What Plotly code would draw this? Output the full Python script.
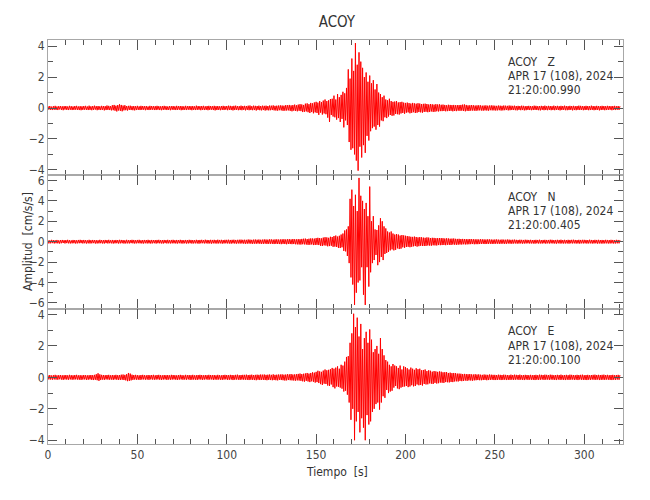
import plotly.graph_objects as go
from plotly.subplots import make_subplots

# ---------------- data (0.5 s steps, cm/s/s) ----------------
sample_interval_s = 0.5

z_values = [
    .12,-.10,.13,-.12,.09,-.13,.12,-.11,.14,-.12,.10,-.13,.12,-.09,.13,-.12,.11,-.14,.12,-.10,
    .13,-.12,.10,-.13,.14,-.11,.12,-.13,.10,-.12,.13,-.11,.14,-.12,.10,-.13,.12,-.14,.11,-.12,
    .13,-.11,.14,-.12,.10,-.13,.15,-.12,.11,-.14,.13,-.12,.15,-.10,.12,-.14,.13,-.12,.11,-.13,
    .14,-.12,.13,-.15,.12,-.13,.16,-.12,.14,-.13,.12,-.15,.18,-.14,.20,-.17,.15,-.22,.19,-.16,
    .24,-.18,.20,-.21,.16,-.15,.18,-.14,.13,-.16,.14,-.12,.15,-.13,.12,-.14,.13,-.15,.12,-.13,
    .14,-.12,.11,-.13,.14,-.12,.13,-.11,.12,-.14,.13,-.12,.10,-.13,.14,-.12,.13,-.11,.12,-.13,
    .12,-.13,.14,-.11,.12,-.13,.11,-.14,.13,-.12,.14,-.11,.12,-.13,.10,-.12,.13,-.14,.12,-.11,
    .13,-.12,.11,-.13,.14,-.12,.12,-.11,.13,-.14,.12,-.13,.11,-.12,.14,-.13,.12,-.11,.13,-.12,
    .12,-.14,.13,-.12,.11,-.13,.15,-.12,.13,-.11,.12,-.14,.13,-.12,.14,-.13,.11,-.12,.13,-.14,
    .14,-.12,.13,-.11,.12,-.13,.14,-.15,.12,-.13,.13,-.12,.11,-.14,.13,-.12,.14,-.13,.12,-.11,
    .13,-.14,.15,-.12,.14,-.13,.12,-.15,.14,-.13,.15,-.12,.13,-.14,.12,-.13,.15,-.14,.13,-.12,
    .14,-.15,.13,-.12,.15,-.14,.16,-.13,.12,-.14,.15,-.13,.14,-.16,.13,-.12,.15,-.14,.13,-.15,
    .15,-.13,.14,-.16,.15,-.14,.13,-.15,.16,-.14,.15,-.13,.17,-.15,.14,-.16,.15,-.17,.16,-.14,
    .17,-.15,.16,-.18,.15,-.17,.19,-.16,.18,-.15,.20,-.18,.17,-.21,.19,-.17,.22,-.19,.18,-.21,
    .22,-.18,.25,-.20,.23,-.26,.20,-.24,.28,-.22,.30,-.27,.25,-.32,.33,-.26,.30,-.34,.36,-.28,
    .40,-.32,.35,-.44,.45,-.30,.38,-.42,.48,-.35,.55,-.40,.45,-.62,.50,-.90,.58,-.45,.60,-.55,
    .80,-.60,.55,-.75,.90,-.65,.70,-.90,.85,-.70,1.05,-1.25,.95,-.80,1.30,-1.10,2.50,-2.20,1.90,-2.70,
    3.20,-2.60,2.40,-3.00,4.20,-3.40,2.80,-4.05,3.60,-2.50,3.00,-3.20,2.60,-2.40,2.00,-2.90,2.30,-1.80,1.70,-2.10,
    2.10,-1.50,1.60,-1.30,1.80,-1.20,1.20,-1.40,1.55,-1.10,1.00,-1.20,.90,-.80,.70,-.85,.80,-.60,.55,-.65,
    .50,-.55,.60,-.45,.45,-.50,.40,-.48,.42,-.38,.45,-.40,.36,-.42,.38,-.35,.40,-.32,.35,-.37,
    .33,-.30,.35,-.28,.32,-.34,.29,-.31,.33,-.27,.30,-.32,.28,-.30,.31,-.26,.29,-.28,.26,-.30,
    .27,-.25,.28,-.24,.26,-.27,.23,-.25,.26,-.22,.24,-.25,.22,-.24,.25,-.21,.23,-.22,.24,-.20,
    .21,-.20,.22,-.19,.20,-.21,.18,-.20,.21,-.19,.20,-.18,.19,-.21,.20,-.19,.18,-.20,.19,-.17,
    .19,-.18,.20,-.17,.22,-.19,.23,-.21,.20,-.18,.17,-.19,.18,-.17,.19,-.16,.18,-.17,.16,-.18,
    .17,-.16,.18,-.15,.17,-.16,.15,-.17,.16,-.15,.17,-.16,.15,-.17,.16,-.14,.17,-.15,.16,-.15,
    .15,-.16,.14,-.15,.16,-.14,.15,-.16,.14,-.15,.16,-.14,.15,-.13,.14,-.15,.16,-.14,.15,-.13,
    .14,-.13,.15,-.14,.13,-.15,.14,-.12,.13,-.14,.15,-.13,.14,-.15,.12,-.14,.13,-.12,.14,-.13,
    .13,-.14,.12,-.13,.15,-.12,.14,-.13,.12,-.14,.13,-.15,.14,-.12,.13,-.14,.15,-.13,.12,-.14,
    .14,-.12,.13,-.14,.12,-.13,.15,-.14,.13,-.12,.14,-.13,.12,-.15,.14,-.13,.13,-.12,.15,-.14,
    .13,-.14,.12,-.13,.14,-.12,.13,-.15,.14,-.13,.12,-.14,.13,-.12,.15,-.13,.14,-.12,.13,-.14,
    .12,-.13,.14,-.12,.13,-.14,.12,-.13,.15,-.12,.13,-.14,.12,-.13,.14,-.12,.13,-.15,.12,-.13,
    .14,-.12,.13,-.14,.12,-.13,.14,-.12,.13,-.11,.12,-.14,.13,-.12,.14,-.13,.12,-.11,.13,-.12,
    .12,
]

n_values = [
    .15,-.17,.13,-.16,.18,-.14,.16,-.17,.14,-.15,.17,-.16,.13,-.18,.16,-.15,.17,-.13,.15,-.17,
    .16,-.14,.18,-.16,.15,-.17,.13,-.16,.17,-.15,.16,-.18,.14,-.16,.17,-.15,.18,-.14,.16,-.17,
    .17,-.15,.16,-.18,.14,-.16,.18,-.17,.15,-.16,.17,-.14,.16,-.18,.15,-.17,.14,-.16,.18,-.15,
    .16,-.17,.15,-.18,.17,-.14,.16,-.17,.18,-.15,.14,-.16,.17,-.18,.15,-.16,.17,-.15,.16,-.18,
    .18,-.16,.17,-.15,.16,-.18,.14,-.17,.18,-.16,.15,-.17,.16,-.14,.18,-.16,.17,-.18,.15,-.16,
    .17,-.15,.18,-.16,.14,-.17,.16,-.18,.17,-.15,.16,-.17,.18,-.16,.15,-.18,.17,-.16,.16,-.15,
    .16,-.18,.17,-.15,.18,-.16,.15,-.17,.16,-.18,.17,-.14,.16,-.17,.18,-.16,.15,-.17,.17,-.16,
    .18,-.16,.15,-.17,.17,-.18,.16,-.15,.18,-.17,.16,-.18,.15,-.16,.17,-.18,.16,-.17,.18,-.15,
    .17,-.18,.16,-.17,.15,-.16,.18,-.17,.16,-.19,.17,-.16,.18,-.15,.16,-.17,.19,-.16,.17,-.18,
    .16,-.17,.18,-.19,.17,-.16,.18,-.17,.16,-.18,.19,-.17,.17,-.16,.18,-.19,.16,-.17,.18,-.16,
    .18,-.17,.19,-.18,.17,-.19,.18,-.16,.19,-.18,.17,-.19,.18,-.17,.19,-.18,.20,-.17,.18,-.19,
    .19,-.20,.18,-.19,.21,-.18,.20,-.19,.18,-.21,.20,-.19,.21,-.20,.19,-.18,.21,-.20,.19,-.21,
    .20,-.21,.22,-.19,.21,-.22,.20,-.21,.23,-.20,.22,-.21,.20,-.23,.22,-.21,.23,-.22,.21,-.23,
    .22,-.24,.23,-.21,.24,-.23,.22,-.25,.24,-.22,.25,-.23,.22,-.24,.26,-.23,.24,-.25,.23,-.26,
    .25,-.27,.24,-.28,.27,-.25,.29,-.26,.30,-.28,.26,-.31,.29,-.30,.32,-.27,.31,-.33,.30,-.32,
    .35,-.30,.38,-.33,.36,-.40,.32,-.42,.40,-.36,.44,-.38,.42,-.45,.38,-.43,.48,-.40,.46,-.50,
    .55,-.48,.60,-.52,.50,-.60,.58,-.62,.70,-.55,.80,-.90,1.10,-.95,1.20,-1.40,1.50,-2.10,4.20,-3.50,
    5.10,-4.20,3.50,-6.20,4.60,-5.00,3.00,-4.00,6.25,-3.80,4.50,-2.50,4.00,-5.20,3.20,-6.20,3.80,-2.50,2.50,-4.40,
    5.40,-3.00,2.00,-2.10,2.50,-1.80,1.20,-1.30,1.15,-2.30,1.60,-2.00,2.30,-1.50,2.00,-1.80,1.50,-1.20,1.30,-1.10,
    1.00,-1.00,.90,-.85,1.00,-.75,.80,-.85,.70,-.80,.75,-.65,.70,-.72,.60,-.68,.65,-.55,.62,-.60,
    .58,-.52,.55,-.50,.52,-.54,.48,-.50,.47,-.45,.50,-.43,.46,-.48,.42,-.44,.45,-.40,.43,-.42,
    .40,-.42,.38,-.41,.42,-.37,.40,-.38,.36,-.39,.38,-.35,.37,-.36,.34,-.37,.35,-.33,.36,-.34,
    .35,-.33,.34,-.32,.31,-.34,.33,-.30,.32,-.31,.29,-.32,.30,-.28,.31,-.29,.28,-.30,.27,-.29,
    .28,-.27,.26,-.28,.27,-.25,.26,-.27,.25,-.26,.24,-.25,.26,-.24,.25,-.23,.24,-.25,.23,-.24,
    .23,-.24,.22,-.23,.24,-.22,.23,-.21,.22,-.23,.21,-.22,.23,-.21,.22,-.20,.21,-.22,.20,-.21,
    .21,-.20,.22,-.19,.20,-.21,.19,-.20,.21,-.19,.20,-.21,.19,-.20,.21,-.18,.20,-.19,.18,-.20,
    .19,-.18,.20,-.17,.18,-.19,.17,-.18,.19,-.17,.18,-.19,.17,-.18,.19,-.17,.18,-.16,.17,-.18,
    .18,-.17,.16,-.18,.17,-.19,.18,-.16,.17,-.18,.19,-.17,.16,-.18,.17,-.16,.18,-.19,.17,-.16,
    .17,-.18,.19,-.16,.18,-.17,.16,-.18,.17,-.19,.18,-.16,.17,-.18,.19,-.17,.16,-.18,.18,-.17,
    .16,-.17,.18,-.19,.17,-.16,.18,-.17,.19,-.16,.17,-.18,.16,-.17,.18,-.19,.17,-.16,.18,-.17,
    .18,-.16,.17,-.18,.16,-.17,.19,-.16,.17,-.18,.16,-.17,.18,-.16,.17,-.19,.18,-.17,.16,-.18,
    .17,-.18,.16,-.17,.18,-.16,.17,-.18,.16,-.17,.18,-.16,.17,-.18,.16,-.17,.18,-.16,.17,-.16,
    .17,
]

e_values = [
    .14,-.13,.15,-.14,.12,-.15,.14,-.13,.16,-.14,.13,-.15,.14,-.12,.15,-.14,.13,-.16,.14,-.13,
    .15,-.14,.13,-.15,.16,-.13,.14,-.15,.13,-.14,.15,-.13,.16,-.14,.13,-.15,.14,-.16,.13,-.14,
    .15,-.13,.14,-.16,.13,-.15,.14,-.13,.15,-.16,.14,-.17,.16,-.15,.20,-.18,.26,-.22,.19,-.17,
    .16,-.14,.15,-.16,.14,-.13,.15,-.14,.16,-.15,.13,-.14,.15,-.16,.14,-.13,.16,-.15,.14,-.16,
    .15,-.16,.17,-.15,.18,-.17,.16,-.19,.20,-.24,.28,-.22,.24,-.19,.17,-.16,.15,-.14,.16,-.15,
    .14,-.15,.13,-.16,.15,-.14,.16,-.13,.14,-.15,.13,-.14,.15,-.16,.14,-.13,.15,-.14,.16,-.15,
    .13,-.14,.15,-.13,.16,-.15,.14,-.16,.13,-.14,.15,-.13,.14,-.16,.15,-.14,.13,-.15,.16,-.14,
    .15,-.13,.14,-.15,.13,-.16,.15,-.14,.16,-.13,.14,-.15,.13,-.14,.16,-.15,.14,-.13,.15,-.16,
    .14,-.15,.16,-.14,.13,-.15,.14,-.16,.15,-.13,.16,-.14,.15,-.16,.13,-.14,.15,-.13,.14,-.15,
    .16,-.14,.15,-.13,.14,-.16,.15,-.14,.13,-.15,.16,-.14,.14,-.15,.13,-.16,.15,-.14,.16,-.13,
    .15,-.16,.14,-.15,.16,-.14,.15,-.17,.14,-.15,.16,-.14,.17,-.15,.14,-.16,.15,-.14,.16,-.15,
    .16,-.15,.17,-.16,.15,-.17,.16,-.15,.17,-.16,.15,-.17,.16,-.18,.17,-.15,.16,-.17,.18,-.16,
    .17,-.16,.18,-.17,.16,-.18,.17,-.16,.18,-.17,.16,-.18,.19,-.17,.16,-.18,.17,-.19,.18,-.16,
    .18,-.17,.19,-.18,.17,-.20,.18,-.19,.20,-.17,.19,-.18,.21,-.19,.18,-.20,.19,-.21,.20,-.19,
    .22,-.20,.24,-.22,.21,-.25,.23,-.27,.25,-.22,.28,-.26,.24,-.30,.28,-.25,.32,-.28,.30,-.33,
    .35,-.30,.42,-.36,.38,-.43,.35,-.48,.43,-.40,.50,-.42,.45,-.52,.48,-.55,.52,-.45,.60,-.62,
    .55,-.70,.62,-.58,.70,-.60,.55,-.65,.80,-.72,.75,-.90,1.00,-.85,1.30,-1.10,1.35,-1.60,2.20,-2.70,
    2.80,-2.00,4.05,-4.00,3.20,-2.80,3.80,-2.20,2.60,-3.50,3.40,-2.60,1.80,-3.20,2.50,-4.00,2.90,-2.40,2.20,-3.00,
    3.05,-2.80,2.40,-2.20,1.60,-2.00,1.80,-1.70,2.00,-1.60,1.50,-2.05,2.50,-1.60,1.80,-1.20,1.40,-1.30,1.10,-.80,
    1.00,-1.00,.80,-.90,.70,-.85,.85,-.65,.75,-.55,.70,-.70,.60,-.75,.75,-.65,.50,-.60,.70,-.58,
    .65,-.55,.58,-.62,.50,-.58,.62,-.50,.55,-.57,.48,-.55,.58,-.45,.52,-.50,.55,-.48,.45,-.52,
    .47,-.42,.50,-.45,.40,-.44,.45,-.38,.42,-.40,.36,-.42,.40,-.35,.38,-.39,.35,-.37,.38,-.33,
    .36,-.34,.32,-.35,.33,-.30,.34,-.31,.28,-.32,.30,-.29,.27,-.30,.28,-.26,.27,-.25,.24,-.26,
    .24,-.22,.23,-.24,.21,-.23,.22,-.20,.21,-.22,.20,-.19,.21,-.20,.19,-.21,.18,-.19,.20,-.18,
    .18,-.17,.19,-.18,.17,-.18,.16,-.17,.18,-.16,.17,-.18,.16,-.17,.18,-.16,.17,-.15,.16,-.17,
    .16,-.17,.15,-.16,.17,-.15,.16,-.17,.15,-.16,.17,-.15,.16,-.17,.15,-.16,.14,-.16,.17,-.15,
    .15,-.16,.17,-.15,.16,-.14,.15,-.16,.17,-.15,.14,-.16,.15,-.17,.16,-.14,.15,-.16,.14,-.15,
    .16,-.15,.14,-.16,.15,-.17,.16,-.15,.14,-.16,.17,-.15,.16,-.14,.15,-.16,.17,-.15,.16,-.14,
    .15,-.16,.17,-.14,.16,-.15,.14,-.16,.15,-.17,.16,-.14,.15,-.16,.17,-.15,.14,-.16,.15,-.17,
    .16,-.15,.14,-.16,.17,-.15,.16,-.14,.15,-.16,.14,-.15,.16,-.17,.15,-.14,.16,-.15,.17,-.16,
    .14,-.16,.15,-.17,.16,-.15,.14,-.16,.15,-.14,.16,-.15,.17,-.16,.15,-.14,.16,-.17,.15,-.16,
    .16,-.15,.17,-.16,.15,-.14,.16,-.15,.14,-.16,.15,-.17,.16,-.15,.14,-.16,.15,-.14,.16,-.15,
    .15,
]

components = ["Z", "N", "E"]
start_times = ["21:20:00.990", "21:20:00.405", "21:20:00.100"]
station = "ACOY"
date_label = "APR 17 (108), 2024"
y_ranges = [[-4.31, 4.40], [-6.63, 6.57], [-4.24, 4.33]]
x_range = [0, 321.7]
x_ticks = [0, 50, 100, 150, 200, 250, 300]

# ---------------- figure ----------------
FONT = "DejaVu Sans Condensed, Liberation Sans Narrow, Arial Narrow, sans-serif"
AXIS_COLOR = "#a8a8a8"
TICK_COLOR = "#555555"
LABEL_COLOR = "#444444"
TEXT_COLOR = "#333333"

fig = make_subplots(rows=3, cols=1, shared_xaxes=True, vertical_spacing=0)

for row, vals in enumerate([z_values, n_values, e_values], start=1):
    t = [i * sample_interval_s for i in range(len(vals))]
    fig.add_trace(
        go.Scatter(x=t, y=vals, mode="lines",
                   line=dict(color="#ff0000", width=1.0),
                   hoverinfo="skip", showlegend=False),
        row=row, col=1,
    )
    fig.update_yaxes(
        range=y_ranges[row - 1], dtick=2, tick0=0,
        ticks="inside", ticklen=9, tickwidth=1, tickcolor=TICK_COLOR,
        minor=dict(dtick=1, ticks="inside", ticklen=5, tickcolor=TICK_COLOR, tickwidth=1),
        showline=True, linecolor=AXIS_COLOR, linewidth=1, mirror="allticks",
        showgrid=False, zeroline=False,
        tickfont=dict(family=FONT, size=12, color=LABEL_COLOR),
        row=row, col=1,
    )
    fig.update_xaxes(
        range=x_range, tickvals=x_ticks,
        ticks="inside", ticklen=10, tickwidth=1, tickcolor=TICK_COLOR,
        minor=dict(dtick=10, tick0=0, ticks="inside", ticklen=5, tickcolor=TICK_COLOR, tickwidth=1),
        showline=True, linecolor=AXIS_COLOR, linewidth=1, mirror="allticks",
        showgrid=False, zeroline=False,
        tickfont=dict(family=FONT, size=12, color=LABEL_COLOR),
        row=row, col=1,
    )

annotations = []
panel_tops = [1.0, 0.6667, 0.3333]
plot_h = 404.0
for i, comp in enumerate(components):
    lines = [f"{station}\u00a0\u00a0\u00a0{comp}", date_label, start_times[i]]
    for j, txt in enumerate(lines):
        annotations.append(dict(
            text=txt, xref="paper", yref="paper",
            x=0.797, y=panel_tops[i] - (22 + 14.2 * j) / plot_h,
            xanchor="left", yanchor="middle", showarrow=False,
            font=dict(family=FONT, size=12, color=TEXT_COLOR),
        ))

annotations.append(dict(
    text="Tiempo\u00a0\u00a0[s]", xref="paper", yref="paper",
    x=0.503, y=-28 / plot_h, xanchor="center", yanchor="middle", showarrow=False,
    font=dict(family=FONT, size=12, color=TEXT_COLOR),
))
annotations.append(dict(
    text="Amplitud\u00a0\u00a0[cm/s/s]", xref="paper", yref="paper",
    x=-20 / 575, y=0.5, xanchor="center", yanchor="middle", showarrow=False,
    textangle=-90, font=dict(family=FONT, size=12, color=TEXT_COLOR),
))

# page body adds an 8 px offset, so margins are shifted to keep the plot area in place
fig.update_layout(
    width=650, height=500,
    margin=dict(l=40, r=35, t=32, b=64),
    paper_bgcolor="white", plot_bgcolor="white",
    title=dict(text=station, x=0.506, xanchor="center", y=1 - 14 / 500, yanchor="middle",
               font=dict(family=FONT, size=15, color=TEXT_COLOR)),
    annotations=annotations,
    showlegend=False,
)

fig.write_html("out.html")
